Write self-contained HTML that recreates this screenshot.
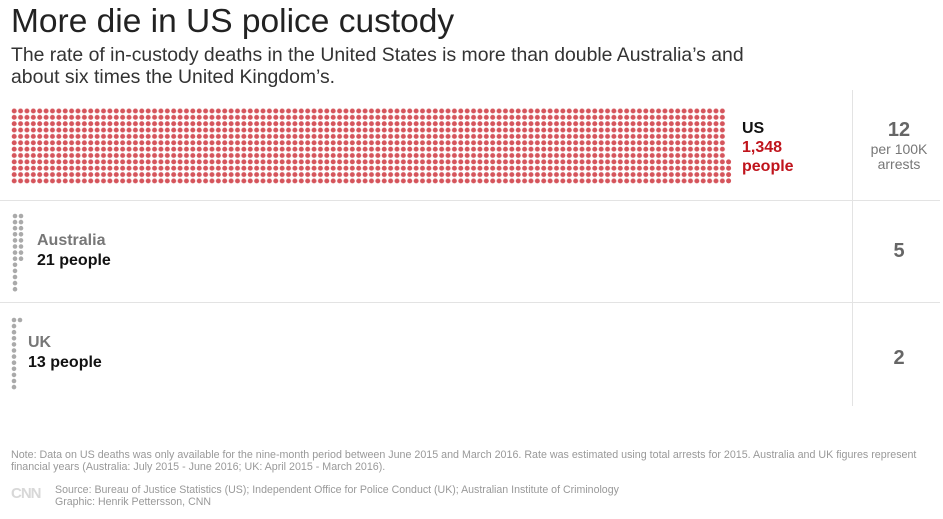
<!DOCTYPE html>
<html><head><meta charset="utf-8"><style>
body{margin:0;width:943px;height:519px;background:#fff;font-family:"Liberation Sans",sans-serif;position:relative;overflow:hidden}
.a{position:absolute;white-space:nowrap}
</style></head><body>
<div class="a" style="left:11px;top:3px;font-size:33.5px;color:#222">More die in US police custody</div>
<div class="a" style="left:11px;top:44px;font-size:19.4px;line-height:22px;color:#333">The rate of in-custody deaths in the United States is more than double Australia’s and<br>about six times the United Kingdom’s.</div>
<svg class="a" style="left:0;top:0" width="943" height="519">
<defs>
<pattern id="p" x="11" y="107.8" width="6.38" height="6.36" patternUnits="userSpaceOnUse"><circle cx="3.19" cy="3.18" r="2.5" fill="#d5555c"/></pattern>
</defs>
<rect x="11" y="107.8" width="714.6" height="76.3" fill="url(#p)"/>
<g fill="#d5555c"><circle cx="728.6" cy="161.9" r="2.5"/><circle cx="728.6" cy="168.2" r="2.5"/><circle cx="728.6" cy="174.6" r="2.5"/><circle cx="728.6" cy="180.9" r="2.5"/></g>
<g fill="#aaa">
<circle cx="15" cy="216" r="2.3"/><circle cx="15" cy="222.1" r="2.3"/><circle cx="15" cy="228.2" r="2.3"/><circle cx="15" cy="234.3" r="2.3"/><circle cx="15" cy="240.4" r="2.3"/><circle cx="15" cy="246.5" r="2.3"/><circle cx="15" cy="252.6" r="2.3"/><circle cx="15" cy="258.7" r="2.3"/><circle cx="15" cy="264.8" r="2.3"/><circle cx="15" cy="270.9" r="2.3"/><circle cx="15" cy="277" r="2.3"/><circle cx="15" cy="283.1" r="2.3"/><circle cx="15" cy="289.2" r="2.3"/>
<circle cx="21" cy="216" r="2.3"/><circle cx="21" cy="222.1" r="2.3"/><circle cx="21" cy="228.2" r="2.3"/><circle cx="21" cy="234.3" r="2.3"/><circle cx="21" cy="240.4" r="2.3"/><circle cx="21" cy="246.5" r="2.3"/><circle cx="21" cy="252.6" r="2.3"/><circle cx="21" cy="258.7" r="2.3"/>
<circle cx="14" cy="320" r="2.3"/><circle cx="14" cy="326.1" r="2.3"/><circle cx="14" cy="332.2" r="2.3"/><circle cx="14" cy="338.3" r="2.3"/><circle cx="14" cy="344.4" r="2.3"/><circle cx="14" cy="350.5" r="2.3"/><circle cx="14" cy="356.6" r="2.3"/><circle cx="14" cy="362.7" r="2.3"/><circle cx="14" cy="368.8" r="2.3"/><circle cx="14" cy="374.9" r="2.3"/><circle cx="14" cy="381" r="2.3"/><circle cx="14" cy="387.1" r="2.3"/>
<circle cx="20" cy="320" r="2.3"/>
</g>
<line x1="852.5" y1="90" x2="852.5" y2="406" stroke="#e3e3e3"/>
<line x1="0" y1="200.5" x2="940" y2="200.5" stroke="#e3e3e3"/>
<line x1="0" y1="302.5" x2="940" y2="302.5" stroke="#e3e3e3"/>
</svg>
<div class="a" style="left:742px;top:119px;font-size:16px;line-height:19px;font-weight:bold;color:#111">US<br><span style="color:#c0141c">1,348<br>people</span></div>
<div class="a" style="left:853px;top:119px;width:92px;text-align:center;font-size:20px;font-weight:bold;color:#666">12</div>
<div class="a" style="left:853px;top:142px;width:92px;text-align:center;font-size:14px;line-height:15px;color:#777">per 100K<br>arrests</div>
<div class="a" style="left:37px;top:231px;font-size:16px;line-height:20px;font-weight:bold;color:#777">Australia<br><span style="color:#111">21 people</span></div>
<div class="a" style="left:28px;top:333px;font-size:16px;line-height:20px;font-weight:bold;color:#777">UK<br><span style="color:#111">13 people</span></div>
<div class="a" style="left:853px;top:240px;width:92px;text-align:center;font-size:20px;font-weight:bold;color:#666">5</div>
<div class="a" style="left:853px;top:347px;width:92px;text-align:center;font-size:20px;font-weight:bold;color:#666">2</div>
<div class="a" style="left:11px;top:449px;font-size:10.7px;line-height:12px;color:#999">Note: Data on US deaths was only available for the nine-month period between June 2015 and March 2016. Rate was estimated using total arrests for 2015. Australia and UK figures represent<br>financial years (Australia: July 2015 - June 2016; UK: April 2015 - March 2016).</div>
<div class="a" style="left:11px;top:485px;font-size:15px;font-weight:bold;color:#d8d8d8;letter-spacing:-1px">CNN</div>
<div class="a" style="left:55px;top:484px;font-size:10.6px;line-height:12px;color:#999">Source: Bureau of Justice Statistics (US); Independent Office for Police Conduct (UK); Australian Institute of Criminology<br>Graphic: Henrik Pettersson, CNN</div>
</body></html>
